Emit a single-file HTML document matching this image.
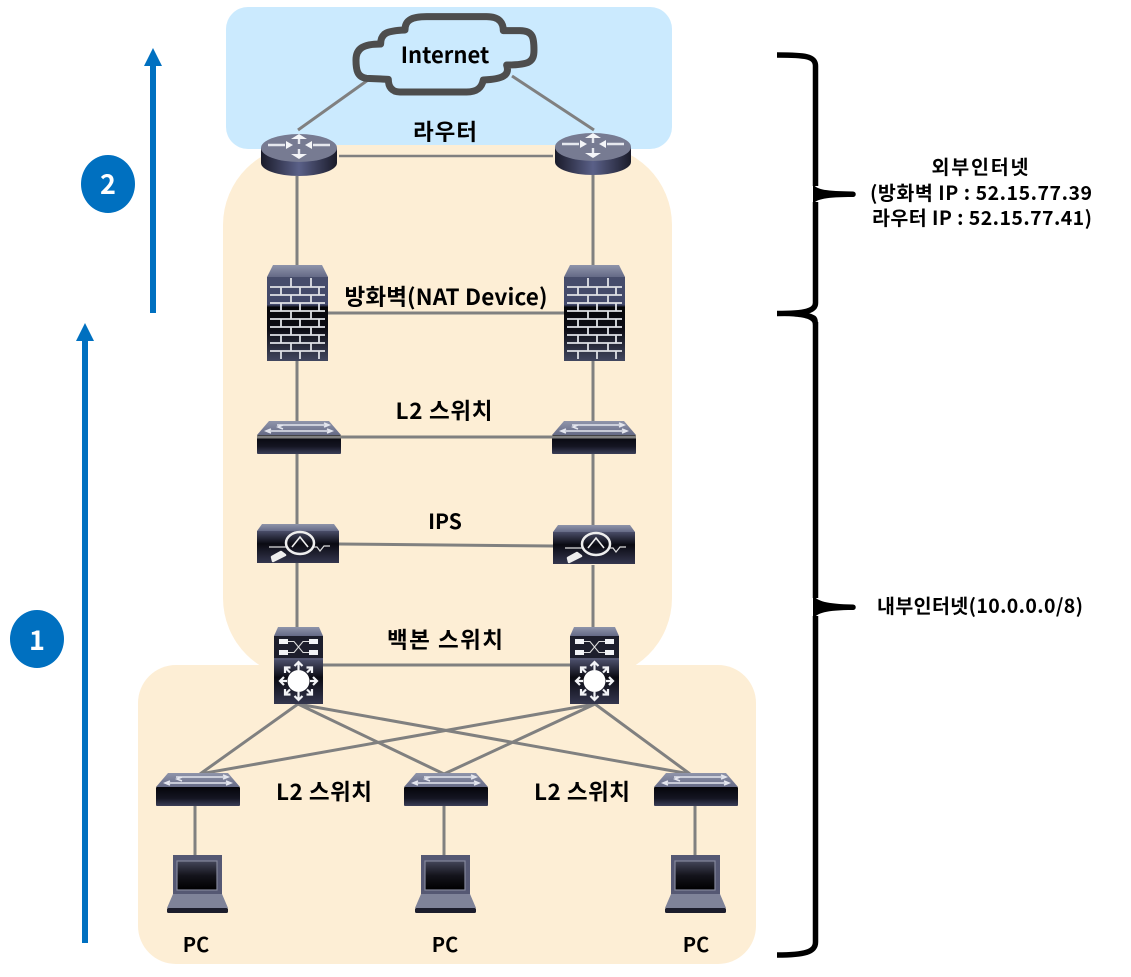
<!DOCTYPE html>
<html><head><meta charset="utf-8"><style>
html,body{margin:0;padding:0;background:#fff}
svg{display:block}
text{font-family:"Noto Sans CJK KR","Liberation Sans",sans-serif;font-weight:700;fill:#000;text-anchor:middle}
</style></head><body>
<svg width="1131" height="977" viewBox="0 0 1131 977" xmlns="http://www.w3.org/2000/svg">
<defs>
<linearGradient id="cyl" x1="0" x2="1" y1="0" y2="0"><stop offset="0" stop-color="#1a1b2a"/><stop offset=".5" stop-color="#5a6088"/><stop offset="1" stop-color="#1a1b2a"/></linearGradient>
<linearGradient id="top" x1="0" x2="0" y1="0" y2="1"><stop offset="0" stop-color="#8f94aa"/><stop offset="1" stop-color="#656a86"/></linearGradient>
<linearGradient id="dark" x1="0" x2="0" y1="0" y2="1"><stop offset="0" stop-color="#05050a"/><stop offset=".6" stop-color="#141522"/><stop offset="1" stop-color="#3b3e58"/></linearGradient>
<linearGradient id="ipsg" x1="0" x2="0" y1="0" y2="1"><stop offset="0" stop-color="#4a4d68"/><stop offset=".4" stop-color="#0a0a12"/><stop offset="1" stop-color="#34364e"/></linearGradient>
<linearGradient id="wall" x1="0" x2="0" y1="0" y2="1"><stop offset="0" stop-color="#474d6b"/><stop offset=".33" stop-color="#42486a"/><stop offset=".36" stop-color="#050508"/><stop offset=".62" stop-color="#0c0c14"/><stop offset="1" stop-color="#42475f"/></linearGradient>
<linearGradient id="scr" x1="0" x2="0" y1="0" y2="1"><stop offset="0" stop-color="#44465a"/><stop offset=".5" stop-color="#14141c"/><stop offset="1" stop-color="#000"/></linearGradient>

<symbol id="router" width="76" height="42" overflow="visible">
<path d="M0 14V29C0 36 17 42 38 42S76 36 76 29V14Z" fill="url(#cyl)"/>
<ellipse cx="38" cy="14" rx="38" ry="14" fill="#777b92"/>
<g stroke="#e6e8ee" stroke-width="2.400" fill="none"><path d="M7 11H24M52 11H69"/><path d="M38 4V10M38 15V20"/></g>
<g fill="#f4f5f8"><path d="M38 0l8 5H30zM38 25l8-5H30zM32 11l-7-4v8zM44 11l7-4v8z"/></g>
</symbol>

<symbol id="fw" width="61" height="96" overflow="visible">
<path d="M0 12L6 0H55L61 12Z" fill="url(#top)"/>
<rect y="12" width="61" height="84" fill="url(#wall)"/>
<g stroke="#dfe1e6" stroke-width="1.800" fill="none">
<path d="M3 22H58M3 30H58M3 38H58M3 46H58M3 54H58M3 62H58M3 70H58M3 78H58M3 86H58"/>
<path d="M24 13v9M44 13v9M14 22v8M33 22v8M52 22v8M24 30v8M44 30v8M14 38v8M33 38v8M52 38v8M24 46v8M44 46v8M14 54v8M33 54v8M52 54v8M24 62v8M44 62v8M14 70v8M33 70v8M52 70v8M24 78v8M44 78v8M14 86v8M33 86v8M52 86v8"/>
</g>
</symbol>

<symbol id="l2" width="84" height="33" overflow="visible">
<path d="M0 14L12 0H72L84 14Z" fill="url(#top)"/>
<rect y="14" width="84" height="19" rx="1" fill="url(#dark)"/>
<g stroke="#e4e6ee" stroke-width="1.500" fill="none">
<path d="M20 4H72M67 2l5 2-5 2M26 4l-5 2 5 2M9 10H74M70 8l5 2-5 2M14 8l-5 2 5 2"/>
</g>
</symbol>

<symbol id="ipsbox" width="82" height="39" overflow="visible">
<path d="M0 7L5 0H77L82 7Z" fill="url(#top)"/>
<rect y="7" width="82" height="32" fill="url(#ipsg)"/>
<ellipse cx="43" cy="19" rx="14" ry="11" fill="none" stroke="#eee" stroke-width="2.500"/>
<path d="M35 23L43 13L51 23" fill="none" stroke="#eee" stroke-width="1.600"/>
<path d="M12 23H29M57 23H60L63 27L67 22H73" fill="none" stroke="#ddd" stroke-width="1.200"/>
<path d="M16 37L28 31L24 28L15 33Z" fill="#eee" stroke="#eee" stroke-width="2.500" stroke-linejoin="round"/>
</symbol>

<symbol id="bb" width="49" height="77" overflow="visible">
<path d="M0 9L4 0H45L49 9Z" fill="url(#top)"/>
<rect y="9" width="49" height="68" fill="#1a1b2a"/>
<rect y="9" width="49" height="22" fill="#1d1e2c"/>
<rect y="31" width="49" height="2" fill="#545772"/>
<rect y="33" width="49" height="44" fill="url(#ipsg)"/>
<g fill="#f2f3f6"><rect x="5" y="12" width="9" height="5"/><rect x="35" y="12" width="9" height="5"/><rect x="5" y="23" width="9" height="5"/><rect x="35" y="23" width="9" height="5"/></g>
<path d="M14 14.500H20L29 25.500H35M14 25.500H20L29 14.500H35" fill="none" stroke="#ddd" stroke-width="1.100"/>
<circle cx="24.500" cy="54" r="11" fill="#fff"/>
<g stroke="#f2f3f6" stroke-width="2.200" fill="none">
<path d="M24.500 35v8M20.500 39l4-4 4 4M24.500 73v-8M20.500 69l4 4 4-4M6 54h7M10 50l-4 4 4 4M43 54h-7M39 50l4 4-4 4M11 40.500l5 5M11 46v-5.500h5.500M38 40.500l-5 5M38 46v-5.500h-5.500M11 67.500l5-5M11 62v5.500h5.500M38 67.500l-5-5M38 62v5.500h-5.500"/>
</g>
</symbol>

<symbol id="pc" width="61" height="59" overflow="visible">
<path d="M6 0H55V40H6Z" fill="#555873"/>
<rect x="10" y="6" width="40" height="29" fill="url(#scr)" stroke="#84879b" stroke-width="1.200"/>
<path d="M6 39H55L61 53H0Z" fill="#7f8399"/>
<rect y="53" width="61" height="5" rx="1.500" fill="#1c1d2c"/>
</symbol>
</defs>

<!-- regions -->
<rect x="226" y="7" width="446" height="142" rx="22" fill="#cbeafe"/>
<rect x="223" y="145" width="449" height="533" rx="80" fill="#fdeed5"/>
<rect x="138" y="665" width="618" height="299" rx="38" fill="#fdeed5"/>

<!-- connectors -->
<g stroke="#808080" stroke-width="3" fill="none">
<path d="M298 130L368 80M594 130L512 76"/>
<path d="M339 156H553" stroke-width="2.500"/>
<path d="M297 176V265M593 175V265"/>
<path d="M328 313H564"/>
<path d="M297 361V421M593 361V421"/>
<path d="M297 453V524M593 453V525"/>
<path d="M339 544L553 546"/>
<path d="M297 563V627M593 565V627"/>
<path d="M323 665H570"/>
<path d="M298 704L200 774M298 704L444 774M298 704L690 774M595 704L200 774M595 704L444 774M595 704L690 774"/>
<path d="M195 806V855M444 806V855M695 806V855"/>
</g>

<!-- cloud -->
<path transform="translate(220 0) scale(.3333)" d="M440 235C412 232 408 210 408 180C408 145 430 132 482 132C482 100 500 92 555 90C555 60 575 50 620 50L800 50C840 50 850 70 850 92L900 92C940 92 942 115 942 150C942 185 930 195 860 195C870 225 850 238 790 240C785 265 770 276 740 276L540 276C515 276 505 260 505 238Z" fill="#cbeafe" stroke="#4d4d4d" stroke-width="21" stroke-linejoin="round"/>

<!-- devices -->
<use href="#router" x="261" y="134"/><use href="#router" x="555" y="133"/>
<use href="#fw" x="267" y="265"/><use href="#fw" x="564" y="265"/>
<use href="#l2" x="257" y="421"/><use href="#l2" x="552" y="421"/>
<use href="#ipsbox" x="257" y="524"/><use href="#ipsbox" x="553" y="525"/>
<use href="#bb" x="274" y="627"/><use href="#bb" x="570" y="627"/>
<use href="#l2" x="156" y="773"/><use href="#l2" x="404" y="773"/><use href="#l2" x="654" y="773"/>
<use href="#pc" x="167" y="855"/><use href="#pc" x="415" y="855"/><use href="#pc" x="665" y="855"/>
<path d="M257 437H636" stroke="#808080" stroke-width="3" fill="none"/>

<!-- labels -->
<text x="445" y="63" font-size="22">Internet</text>
<text x="445" y="140" font-size="22.500" textLength="64">라우터</text>
<text x="446" y="305" font-size="22.500" textLength="203">방화벽(NAT Device)</text>
<text x="444" y="419" font-size="22.500" textLength="97">L2 스위치</text>
<text x="445" y="529" font-size="21">IPS</text>
<text x="445" y="648" font-size="22.500" textLength="116">백본 스위치</text>
<text x="324" y="800" font-size="22.500" textLength="96">L2 스위치</text>
<text x="582" y="800" font-size="22.500" textLength="96">L2 스위치</text>
<text x="196" y="952" font-size="20">PC</text>
<text x="445" y="952" font-size="20">PC</text>
<text x="696" y="952" font-size="20">PC</text>
<text x="980" y="174" font-size="19.500" textLength="97">외부인터넷</text>
<text x="981" y="200" font-size="19.500" textLength="222">(방화벽 IP : 52.15.77.39</text>
<text x="982" y="225" font-size="19.500" textLength="220">라우터 IP : 52.15.77.41)</text>
<text x="980" y="613" font-size="19.500" textLength="206">내부인터넷(10.0.0.0/8)</text>

<!-- braces -->
<g fill="none" stroke="#000" stroke-width="5.500">
<path d="M777 55C805 55 815.500 56 815.500 66V186"/>
<path d="M815.500 202V303C815.500 311 805 313.500 777 313.500"/>
<path d="M815.500 322V598"/>
<path d="M815.500 616V942C815.500 952 805 955 777 955"/>
</g>
<g fill="#000">
<path d="M813 184C817 190 826 191 853 191.500A2.700 2.700 0 0 1 853 197C826 197 817 199 813 204Z"/>
<path d="M777 311C800 311 809 312 815.500 316C818 318 818 322 818 325H813C813 320 808 316 777 316Z"/>
<path d="M813 595C817 601 826 604 853 604.500A2.700 2.700 0 0 1 853 610C826 610 817 613 813 619Z"/>
</g>

<!-- arrows -->
<g fill="#0070c0">
<rect x="150" y="65" width="6" height="248"/><path d="M153 48L162 66H144Z"/>
<rect x="82" y="340" width="6" height="603"/><path d="M85 323L94 341H76Z"/>
<ellipse cx="108" cy="184" rx="27" ry="29"/>
<ellipse cx="37" cy="639" rx="27" ry="29"/>
</g>
<text x="108" y="194" font-size="27" style="fill:#fff">2</text>
<text x="37" y="650" font-size="27" style="fill:#fff">1</text>
</svg>
</body></html>
